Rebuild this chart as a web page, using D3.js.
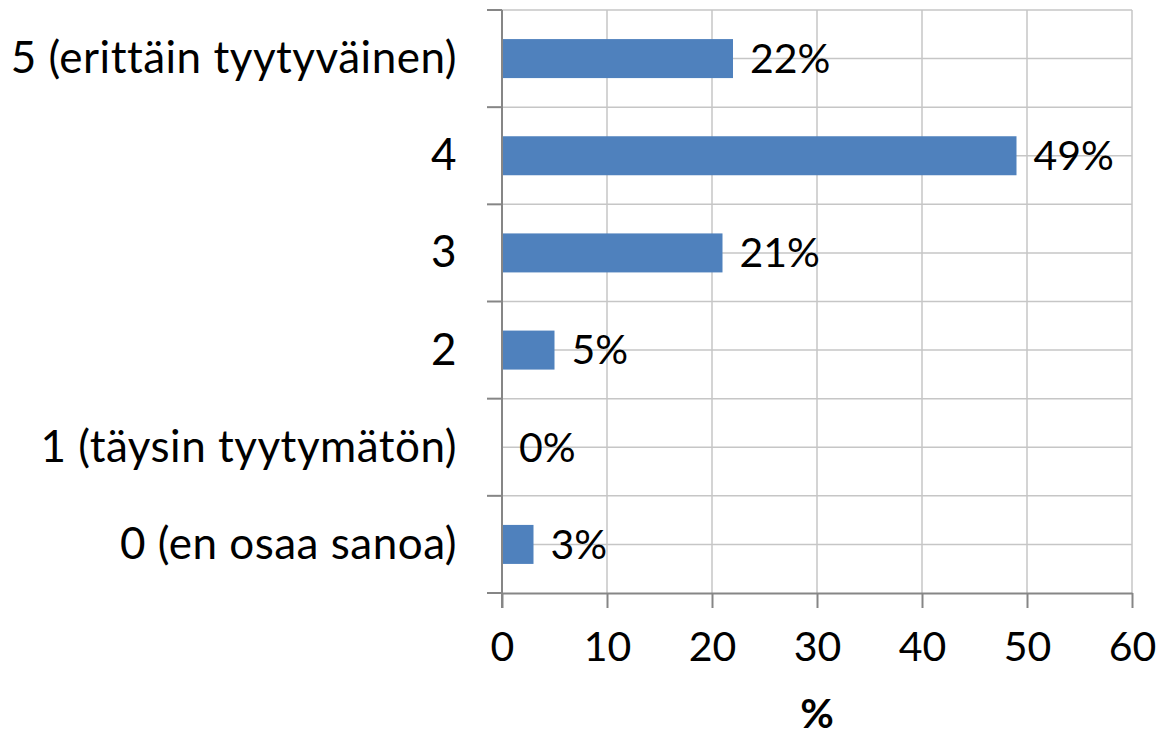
<!DOCTYPE html>
<html><head><meta charset="utf-8">
<script src="https://cdn.jsdelivr.net/npm/d3@7"></script>
<style>body{margin:0;background:#fff}svg{display:block}text{font-family:Lato,"Open Sans",sans-serif;fill:#000}</style>
</head><body>
<svg id="chart" width="1161" height="736"></svg>
<script>
const categories = ["5 (erittäin tyytyväinen)", "4", "3", "2", "1 (täysin tyytymätön)", "0 (en osaa sanoa)"];
const values = [22, 49, 21, 5, 0, 3];
const xTicks = [0, 10, 20, 30, 40, 50, 60];
const axisTitle = "%";

(function () {
const svg = d3.select("#chart");
const pL = 502, pR = 1132, pT = 10, pB = 593;
const x = d3.scaleLinear().domain([0, 60]).range([pL, pR]);
const yb = d3.scaleBand().domain(categories).range([pT, pB]);
const fs = 41;

// vertical gridlines
svg.append("g").selectAll("line").data(xTicks.slice(1)).join("line")
  .attr("x1", d => x(d)).attr("x2", d => x(d)).attr("y1", pT).attr("y2", pB)
  .attr("stroke", "#c6c6c6").attr("stroke-width", 1.5);
// horizontal gridlines at boundaries and centers
const hLines = [];
categories.forEach(c => { hLines.push(yb(c)); hLines.push(yb(c) + yb.bandwidth() / 2); });
svg.append("g").selectAll("line").data(hLines).join("line")
  .attr("x1", pL).attr("x2", pR).attr("y1", d => d).attr("y2", d => d)
  .attr("stroke", "#c6c6c6").attr("stroke-width", 1.5);

// bars
svg.append("g").selectAll("rect").data(categories).join("rect")
  .attr("x", x(0)).attr("y", c => yb(c) + yb.bandwidth() / 2 - 19.5)
  .attr("width", (c, i) => x(values[i]) - x(0)).attr("height", 39)
  .attr("fill", "#4f81bd");

// x axis
const xAxis = d3.axisBottom(x).tickValues(xTicks).tickSize(15).tickPadding(24).tickSizeOuter(0);
const gx = svg.append("g").attr("transform", `translate(0,${pB})`).call(xAxis);
gx.select(".domain").attr("stroke", "#868686").attr("stroke-width", 2);
gx.selectAll(".tick line").attr("stroke", "#868686").attr("stroke-width", 2);
gx.selectAll(".tick text").attr("font-size", fs).attr("font-family", "Lato").attr("fill", "#000");

// y axis
const yAxis = d3.axisLeft(yb).tickSize(0).tickPadding(45);
const gy = svg.append("g").attr("transform", `translate(${pL},0)`).call(yAxis);
gy.select(".domain").remove();
gy.selectAll(".tick text").attr("font-size", 44).attr("letter-spacing", "0.5px")
  .attr("font-family", "Lato").attr("fill", "#000").attr("dy", "0.33em");
svg.append("line").attr("x1", pL).attr("x2", pL).attr("y1", pT).attr("y2", pB + 15)
  .attr("stroke", "#868686").attr("stroke-width", 2);
const bounds = categories.map(c => yb(c)).concat([pB]);
svg.append("g").selectAll("line").data(bounds).join("line")
  .attr("x1", pL - 15).attr("x2", pL).attr("y1", d => d).attr("y2", d => d)
  .attr("stroke", "#868686").attr("stroke-width", 2);

// value labels
svg.append("g").selectAll("text").data(categories).join("text")
  .attr("x", (c, i) => x(values[i]) + 17).attr("y", c => yb(c) + yb.bandwidth() / 2)
  .attr("dy", "0.35em").attr("font-size", fs)
  .text((c, i) => values[i] + "%");

// axis title
svg.append("text").attr("x", (pL + pR) / 2).attr("y", 728).attr("text-anchor", "middle")
  .attr("font-size", fs).attr("font-weight", "bold").text(axisTitle);
})();
</script>
</body></html>
